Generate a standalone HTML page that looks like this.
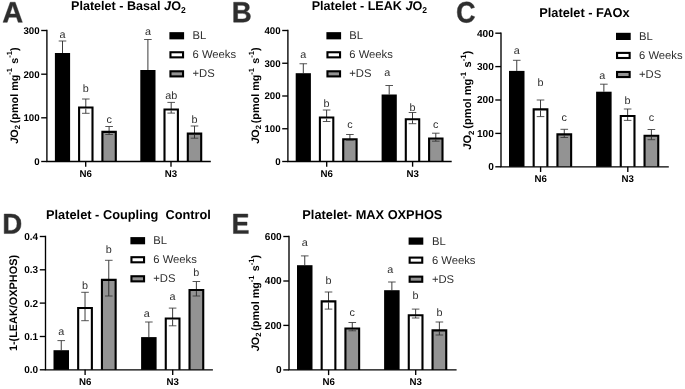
<!DOCTYPE html>
<html><head><meta charset="utf-8"><title>Platelet respiration</title>
<style>html,body{margin:0;padding:0;background:#fff;}body{width:685px;height:389px;overflow:hidden;font-family:"Liberation Sans", sans-serif;}</style>
</head><body>
<svg width="685" height="389" viewBox="0 0 685 389" font-family='"Liberation Sans", sans-serif' style="display:block;filter:grayscale(1)" text-rendering="geometricPrecision">
<rect width="685" height="389" fill="#fff"/>
<path transform="translate(2.334,22.350) scale(0.01405,-0.01427)" d="M1133 0 1008 360H471L346 0H51L565 1409H913L1425 0ZM739 1192 733 1170Q723 1134 709.0 1088.0Q695 1042 537 582H942L803 987L760 1123Z" fill="#2e2e2e" stroke="#2e2e2e" stroke-width="0.45" stroke-linejoin="round" vector-effect="non-scaling-stroke"/>
<text x="71.00" y="10.30" font-size="12.6" font-weight="bold" text-anchor="start" fill="#000" >Platelet - Basal <tspan font-style="italic">J</tspan>O<tspan font-size="8.5" dy="2.5">2</tspan></text>
<path d="M62.50 41.00V53.00" stroke="#262626" stroke-width="0.9" fill="none"/>
<path d="M58.70 41.00H66.30" stroke="#383838" stroke-width="0.85" fill="none"/>
<rect x="54.90" y="53.00" width="15.20" height="108.50" fill="#000"/>
<text x="62.50" y="38.00" font-size="10.8" font-weight="normal" text-anchor="middle" fill="#2e2e2e" >a</text>
<path d="M85.80 99.00V113.30" stroke="#262626" stroke-width="0.9" fill="none"/>
<path d="M82.00 99.00H89.60" stroke="#383838" stroke-width="0.85" fill="none"/>
<path d="M79.10 161.50V107.55H92.50V161.50" fill="#fff" stroke="#000" stroke-width="2.1"/>
<path d="M85.80 108.60V113.30" stroke="#262626" stroke-width="0.9" fill="none"/>
<path d="M82.00 113.30H89.60" stroke="#383838" stroke-width="0.85" fill="none"/>
<text x="85.80" y="92.00" font-size="10.8" font-weight="normal" text-anchor="middle" fill="#2e2e2e" >b</text>
<path d="M109.10 126.50V134.50" stroke="#262626" stroke-width="0.9" fill="none"/>
<path d="M105.30 126.50H112.90" stroke="#383838" stroke-width="0.85" fill="none"/>
<path d="M102.40 161.50V131.85H115.80V161.50" fill="#939393" stroke="#000" stroke-width="2.1"/>
<path d="M109.10 132.90V134.50" stroke="#262626" stroke-width="0.9" fill="none"/>
<path d="M105.30 134.50H112.90" stroke="#383838" stroke-width="0.85" fill="none"/>
<text x="109.10" y="123.30" font-size="10.8" font-weight="normal" text-anchor="middle" fill="#2e2e2e" >c</text>
<path d="M147.90 39.50V70.00" stroke="#262626" stroke-width="0.9" fill="none"/>
<path d="M144.10 39.50H151.70" stroke="#383838" stroke-width="0.85" fill="none"/>
<rect x="140.30" y="70.00" width="15.20" height="91.50" fill="#000"/>
<text x="147.90" y="35.40" font-size="10.8" font-weight="normal" text-anchor="middle" fill="#2e2e2e" >a</text>
<path d="M171.20 102.40V113.10" stroke="#262626" stroke-width="0.9" fill="none"/>
<path d="M167.40 102.40H175.00" stroke="#383838" stroke-width="0.85" fill="none"/>
<path d="M164.50 161.50V109.45H177.90V161.50" fill="#fff" stroke="#000" stroke-width="2.1"/>
<path d="M171.20 110.50V113.10" stroke="#262626" stroke-width="0.9" fill="none"/>
<path d="M167.40 113.10H175.00" stroke="#383838" stroke-width="0.85" fill="none"/>
<text x="171.20" y="99.30" font-size="10.8" font-weight="normal" text-anchor="middle" fill="#2e2e2e" >ab</text>
<path d="M194.50 126.00V138.20" stroke="#262626" stroke-width="0.9" fill="none"/>
<path d="M190.70 126.00H198.30" stroke="#383838" stroke-width="0.85" fill="none"/>
<path d="M187.80 161.50V133.65H201.20V161.50" fill="#939393" stroke="#000" stroke-width="2.1"/>
<path d="M194.50 134.70V138.20" stroke="#262626" stroke-width="0.9" fill="none"/>
<path d="M190.70 138.20H198.30" stroke="#383838" stroke-width="0.85" fill="none"/>
<text x="194.50" y="122.80" font-size="10.8" font-weight="normal" text-anchor="middle" fill="#2e2e2e" >b</text>
<path d="M46.90 29.82V161.50H210.80" stroke="#000" stroke-width="1.35" fill="none" stroke-linejoin="miter"/>
<path d="M41.20 161.50H46.90" stroke="#000" stroke-width="1.35"/>
<text x="39.60" y="164.90" font-size="9.7" font-weight="bold" text-anchor="end" fill="#000" >0</text>
<path d="M41.20 117.80H46.90" stroke="#000" stroke-width="1.35"/>
<text x="39.60" y="121.20" font-size="9.7" font-weight="bold" text-anchor="end" fill="#000" >100</text>
<path d="M41.20 74.20H46.90" stroke="#000" stroke-width="1.35"/>
<text x="39.60" y="77.60" font-size="9.7" font-weight="bold" text-anchor="end" fill="#000" >200</text>
<path d="M41.20 30.50H46.90" stroke="#000" stroke-width="1.35"/>
<text x="39.60" y="33.90" font-size="9.7" font-weight="bold" text-anchor="end" fill="#000" >300</text>
<path d="M85.70 161.50V166.70" stroke="#000" stroke-width="1.35"/>
<text x="85.70" y="176.90" font-size="9.7" font-weight="bold" text-anchor="middle" fill="#000" >N6</text>
<path d="M171.00 161.50V166.70" stroke="#000" stroke-width="1.35"/>
<text x="171.00" y="176.90" font-size="9.7" font-weight="bold" text-anchor="middle" fill="#000" >N3</text>
<text transform="translate(17.50,95.50) rotate(-90)" font-size="10.8" font-weight="bold" text-anchor="middle" fill="#000"><tspan font-style="italic">J</tspan>O<tspan font-size="7.6" dy="2.4">2</tspan><tspan dy="-2.4" dx="-1.2"> (pmol mg</tspan><tspan font-size="7.6" dy="-5.4">-1</tspan><tspan dy="5.4" dx="1.2"> s</tspan><tspan font-size="7.6" dy="-5.4">-1</tspan><tspan dy="5.4">)</tspan></text>
<rect x="169.40" y="32.15" width="14.7" height="7.2" fill="#000"/>
<text x="192.50" y="39.20" font-size="11.25" font-weight="normal" text-anchor="start" fill="#2e2e2e" >BL</text>
<rect x="170.45" y="52.25" width="12.60" height="5.10" fill="#fff" stroke="#000" stroke-width="2.1"/>
<text x="192.50" y="58.25" font-size="11.25" font-weight="normal" text-anchor="start" fill="#2e2e2e" >6 Weeks</text>
<rect x="170.45" y="71.30" width="12.60" height="5.10" fill="#939393" stroke="#000" stroke-width="2.1"/>
<text x="192.50" y="77.30" font-size="11.25" font-weight="normal" text-anchor="start" fill="#2e2e2e" >+DS</text>
<path transform="translate(231.807,22.150) scale(0.01345,-0.01412)" d="M1386 402Q1386 210 1242.0 105.0Q1098 0 842 0H137V1409H782Q1040 1409 1172.5 1319.5Q1305 1230 1305 1055Q1305 935 1238.5 852.5Q1172 770 1036 741Q1207 721 1296.5 633.5Q1386 546 1386 402ZM1008 1015Q1008 1110 947.5 1150.0Q887 1190 768 1190H432V841H770Q895 841 951.5 884.5Q1008 928 1008 1015ZM1090 425Q1090 623 806 623H432V219H817Q959 219 1024.5 270.5Q1090 322 1090 425Z" fill="#2e2e2e" stroke="#2e2e2e" stroke-width="0.45" stroke-linejoin="round" vector-effect="non-scaling-stroke"/>
<text x="311.70" y="10.30" font-size="12.6" font-weight="bold" text-anchor="start" fill="#000" >Platelet - LEAK <tspan font-style="italic">J</tspan>O<tspan font-size="8.5" dy="2.5">2</tspan></text>
<path d="M303.30 63.75V73.20" stroke="#262626" stroke-width="0.9" fill="none"/>
<path d="M299.50 63.75H307.10" stroke="#383838" stroke-width="0.85" fill="none"/>
<rect x="295.70" y="73.20" width="15.20" height="88.30" fill="#000"/>
<text x="303.30" y="58.00" font-size="10.8" font-weight="normal" text-anchor="middle" fill="#2e2e2e" >a</text>
<path d="M326.60 110.00V121.50" stroke="#262626" stroke-width="0.9" fill="none"/>
<path d="M322.80 110.00H330.40" stroke="#383838" stroke-width="0.85" fill="none"/>
<path d="M319.90 161.50V117.55H333.30V161.50" fill="#fff" stroke="#000" stroke-width="2.1"/>
<path d="M326.60 118.60V121.50" stroke="#262626" stroke-width="0.9" fill="none"/>
<path d="M322.80 121.50H330.40" stroke="#383838" stroke-width="0.85" fill="none"/>
<text x="326.60" y="107.00" font-size="10.8" font-weight="normal" text-anchor="middle" fill="#2e2e2e" >b</text>
<path d="M349.90 134.50V140.30" stroke="#262626" stroke-width="0.9" fill="none"/>
<path d="M346.10 134.50H353.70" stroke="#383838" stroke-width="0.85" fill="none"/>
<path d="M343.20 161.50V139.25H356.60V161.50" fill="#939393" stroke="#000" stroke-width="2.1"/>
<path d="M349.90 140.30V140.30" stroke="#262626" stroke-width="0.9" fill="none"/>
<path d="M346.10 140.30H353.70" stroke="#383838" stroke-width="0.85" fill="none"/>
<text x="349.90" y="128.00" font-size="10.8" font-weight="normal" text-anchor="middle" fill="#2e2e2e" >c</text>
<path d="M389.20 85.50V94.50" stroke="#262626" stroke-width="0.9" fill="none"/>
<path d="M385.40 85.50H393.00" stroke="#383838" stroke-width="0.85" fill="none"/>
<rect x="381.60" y="94.50" width="15.20" height="67.00" fill="#000"/>
<text x="387.20" y="75.50" font-size="10.8" font-weight="normal" text-anchor="middle" fill="#2e2e2e" >a</text>
<path d="M412.50 112.50V123.70" stroke="#262626" stroke-width="0.9" fill="none"/>
<path d="M408.70 112.50H416.30" stroke="#383838" stroke-width="0.85" fill="none"/>
<path d="M405.80 161.50V119.25H419.20V161.50" fill="#fff" stroke="#000" stroke-width="2.1"/>
<path d="M412.50 120.30V123.70" stroke="#262626" stroke-width="0.9" fill="none"/>
<path d="M408.70 123.70H416.30" stroke="#383838" stroke-width="0.85" fill="none"/>
<text x="412.50" y="110.70" font-size="10.8" font-weight="normal" text-anchor="middle" fill="#2e2e2e" >b</text>
<path d="M435.80 133.20V141.20" stroke="#262626" stroke-width="0.9" fill="none"/>
<path d="M432.00 133.20H439.60" stroke="#383838" stroke-width="0.85" fill="none"/>
<path d="M429.10 161.50V138.55H442.50V161.50" fill="#939393" stroke="#000" stroke-width="2.1"/>
<path d="M435.80 139.60V141.20" stroke="#262626" stroke-width="0.9" fill="none"/>
<path d="M432.00 141.20H439.60" stroke="#383838" stroke-width="0.85" fill="none"/>
<text x="435.80" y="128.00" font-size="10.8" font-weight="normal" text-anchor="middle" fill="#2e2e2e" >c</text>
<path d="M287.90 29.82V161.50H451.70" stroke="#000" stroke-width="1.35" fill="none" stroke-linejoin="miter"/>
<path d="M282.20 161.50H287.90" stroke="#000" stroke-width="1.35"/>
<text x="280.60" y="164.90" font-size="9.7" font-weight="bold" text-anchor="end" fill="#000" >0</text>
<path d="M282.20 128.75H287.90" stroke="#000" stroke-width="1.35"/>
<text x="280.60" y="132.15" font-size="9.7" font-weight="bold" text-anchor="end" fill="#000" >100</text>
<path d="M282.20 96.00H287.90" stroke="#000" stroke-width="1.35"/>
<text x="280.60" y="99.40" font-size="9.7" font-weight="bold" text-anchor="end" fill="#000" >200</text>
<path d="M282.20 63.25H287.90" stroke="#000" stroke-width="1.35"/>
<text x="280.60" y="66.65" font-size="9.7" font-weight="bold" text-anchor="end" fill="#000" >300</text>
<path d="M282.20 30.50H287.90" stroke="#000" stroke-width="1.35"/>
<text x="280.60" y="33.90" font-size="9.7" font-weight="bold" text-anchor="end" fill="#000" >400</text>
<path d="M326.70 161.50V166.70" stroke="#000" stroke-width="1.35"/>
<text x="326.70" y="176.90" font-size="9.7" font-weight="bold" text-anchor="middle" fill="#000" >N6</text>
<path d="M412.60 161.50V166.70" stroke="#000" stroke-width="1.35"/>
<text x="412.60" y="176.90" font-size="9.7" font-weight="bold" text-anchor="middle" fill="#000" >N3</text>
<text transform="translate(258.90,95.50) rotate(-90)" font-size="10.8" font-weight="bold" text-anchor="middle" fill="#000"><tspan font-style="italic">J</tspan>O<tspan font-size="7.6" dy="2.4">2</tspan><tspan dy="-2.4" dx="-1.2"> (pmol mg</tspan><tspan font-size="7.6" dy="-5.4">-1</tspan><tspan dy="5.4" dx="1.2"> s</tspan><tspan font-size="7.6" dy="-5.4">-1</tspan><tspan dy="5.4">)</tspan></text>
<rect x="326.40" y="32.15" width="14.7" height="7.2" fill="#000"/>
<text x="349.30" y="39.20" font-size="11.25" font-weight="normal" text-anchor="start" fill="#2e2e2e" >BL</text>
<rect x="327.45" y="52.25" width="12.60" height="5.10" fill="#fff" stroke="#000" stroke-width="2.1"/>
<text x="349.30" y="58.25" font-size="11.25" font-weight="normal" text-anchor="start" fill="#2e2e2e" >6 Weeks</text>
<rect x="327.45" y="71.30" width="12.60" height="5.10" fill="#939393" stroke="#000" stroke-width="2.1"/>
<text x="349.30" y="77.30" font-size="11.25" font-weight="normal" text-anchor="start" fill="#2e2e2e" >+DS</text>
<path transform="translate(456.152,22.363) scale(0.01307,-0.01434)" d="M795 212Q1062 212 1166 480L1423 383Q1340 179 1179.5 79.5Q1019 -20 795 -20Q455 -20 269.5 172.5Q84 365 84 711Q84 1058 263.0 1244.0Q442 1430 782 1430Q1030 1430 1186.0 1330.5Q1342 1231 1405 1038L1145 967Q1112 1073 1015.5 1135.5Q919 1198 788 1198Q588 1198 484.5 1074.0Q381 950 381 711Q381 468 487.5 340.0Q594 212 795 212Z" fill="#2e2e2e" stroke="#2e2e2e" stroke-width="0.45" stroke-linejoin="round" vector-effect="non-scaling-stroke"/>
<text x="539.20" y="16.70" font-size="12.8" font-weight="bold" text-anchor="start" fill="#000" >Platelet - FAOx</text>
<path d="M516.75 60.30V70.90" stroke="#262626" stroke-width="0.9" fill="none"/>
<path d="M512.95 60.30H520.55" stroke="#383838" stroke-width="0.85" fill="none"/>
<rect x="509.00" y="70.90" width="15.50" height="95.90" fill="#000"/>
<text x="516.75" y="54.00" font-size="10.8" font-weight="normal" text-anchor="middle" fill="#2e2e2e" >a</text>
<path d="M540.52 100.00V116.60" stroke="#262626" stroke-width="0.9" fill="none"/>
<path d="M536.72 100.00H544.32" stroke="#383838" stroke-width="0.85" fill="none"/>
<path d="M533.67 166.80V109.35H547.37V166.80" fill="#fff" stroke="#000" stroke-width="2.1"/>
<path d="M540.52 110.40V116.60" stroke="#262626" stroke-width="0.9" fill="none"/>
<path d="M536.72 116.60H544.32" stroke="#383838" stroke-width="0.85" fill="none"/>
<text x="540.52" y="86.00" font-size="10.8" font-weight="normal" text-anchor="middle" fill="#2e2e2e" >b</text>
<path d="M564.28 129.30V137.50" stroke="#262626" stroke-width="0.9" fill="none"/>
<path d="M560.48 129.30H568.08" stroke="#383838" stroke-width="0.85" fill="none"/>
<path d="M557.43 166.80V134.35H571.14V166.80" fill="#939393" stroke="#000" stroke-width="2.1"/>
<path d="M564.28 135.40V137.50" stroke="#262626" stroke-width="0.9" fill="none"/>
<path d="M560.48 137.50H568.08" stroke="#383838" stroke-width="0.85" fill="none"/>
<text x="564.28" y="121.40" font-size="10.8" font-weight="normal" text-anchor="middle" fill="#2e2e2e" >c</text>
<path d="M603.86 84.20V91.70" stroke="#262626" stroke-width="0.9" fill="none"/>
<path d="M600.06 84.20H607.66" stroke="#383838" stroke-width="0.85" fill="none"/>
<rect x="596.11" y="91.70" width="15.50" height="75.10" fill="#000"/>
<text x="602.26" y="78.60" font-size="10.8" font-weight="normal" text-anchor="middle" fill="#2e2e2e" >a</text>
<path d="M627.63 109.00V120.40" stroke="#262626" stroke-width="0.9" fill="none"/>
<path d="M623.83 109.00H631.43" stroke="#383838" stroke-width="0.85" fill="none"/>
<path d="M620.77 166.80V116.05H634.48V166.80" fill="#fff" stroke="#000" stroke-width="2.1"/>
<path d="M627.63 117.10V120.40" stroke="#262626" stroke-width="0.9" fill="none"/>
<path d="M623.83 120.40H631.43" stroke="#383838" stroke-width="0.85" fill="none"/>
<text x="627.63" y="104.00" font-size="10.8" font-weight="normal" text-anchor="middle" fill="#2e2e2e" >b</text>
<path d="M651.39 129.50V139.70" stroke="#262626" stroke-width="0.9" fill="none"/>
<path d="M647.59 129.50H655.19" stroke="#383838" stroke-width="0.85" fill="none"/>
<path d="M644.54 166.80V135.75H658.24V166.80" fill="#939393" stroke="#000" stroke-width="2.1"/>
<path d="M651.39 136.80V139.70" stroke="#262626" stroke-width="0.9" fill="none"/>
<path d="M647.59 139.70H655.19" stroke="#383838" stroke-width="0.85" fill="none"/>
<text x="651.39" y="121.40" font-size="10.8" font-weight="normal" text-anchor="middle" fill="#2e2e2e" >c</text>
<path d="M501.00 32.53V166.80H668.80" stroke="#000" stroke-width="1.35" fill="none" stroke-linejoin="miter"/>
<path d="M495.30 166.80H501.00" stroke="#000" stroke-width="1.35"/>
<text x="493.80" y="170.20" font-size="10.1" font-weight="bold" text-anchor="end" fill="#000" >0</text>
<path d="M495.30 133.40H501.00" stroke="#000" stroke-width="1.35"/>
<text x="493.80" y="136.80" font-size="10.1" font-weight="bold" text-anchor="end" fill="#000" >100</text>
<path d="M495.30 100.00H501.00" stroke="#000" stroke-width="1.35"/>
<text x="493.80" y="103.40" font-size="10.1" font-weight="bold" text-anchor="end" fill="#000" >200</text>
<path d="M495.30 66.60H501.00" stroke="#000" stroke-width="1.35"/>
<text x="493.80" y="70.00" font-size="10.1" font-weight="bold" text-anchor="end" fill="#000" >300</text>
<path d="M495.30 33.20H501.00" stroke="#000" stroke-width="1.35"/>
<text x="493.80" y="36.60" font-size="10.1" font-weight="bold" text-anchor="end" fill="#000" >400</text>
<path d="M540.60 166.80V172.00" stroke="#000" stroke-width="1.35"/>
<text x="540.60" y="182.20" font-size="9.7" font-weight="bold" text-anchor="middle" fill="#000" >N6</text>
<path d="M627.80 166.80V172.00" stroke="#000" stroke-width="1.35"/>
<text x="627.80" y="182.20" font-size="9.7" font-weight="bold" text-anchor="middle" fill="#000" >N3</text>
<text transform="translate(471.30,100.20) rotate(-90)" font-size="11.1" font-weight="bold" text-anchor="middle" fill="#000"><tspan font-style="italic">J</tspan>O<tspan font-size="7.81111111111111" dy="2.4666666666666663">2</tspan><tspan dy="-2.4666666666666663" dx="-1.2"> (pmol mg</tspan><tspan font-size="7.81111111111111" dy="-5.55">-1</tspan><tspan dy="5.55" dx="1.2"> s</tspan><tspan font-size="7.81111111111111" dy="-5.55">-1</tspan><tspan dy="5.55">)</tspan></text>
<rect x="616.00" y="32.80" width="14.7" height="7.2" fill="#000"/>
<text x="639.00" y="39.85" font-size="11.25" font-weight="normal" text-anchor="start" fill="#2e2e2e" >BL</text>
<rect x="617.05" y="52.90" width="12.60" height="5.10" fill="#fff" stroke="#000" stroke-width="2.1"/>
<text x="639.00" y="58.90" font-size="11.25" font-weight="normal" text-anchor="start" fill="#2e2e2e" >6 Weeks</text>
<rect x="617.05" y="71.95" width="12.60" height="5.10" fill="#939393" stroke="#000" stroke-width="2.1"/>
<text x="639.00" y="77.95" font-size="11.25" font-weight="normal" text-anchor="start" fill="#2e2e2e" >+DS</text>
<path transform="translate(2.368,233.550) scale(0.01338,-0.01384)" d="M1393 715Q1393 497 1307.5 334.5Q1222 172 1065.5 86.0Q909 0 707 0H137V1409H647Q1003 1409 1198.0 1229.5Q1393 1050 1393 715ZM1096 715Q1096 942 978.0 1061.5Q860 1181 641 1181H432V228H682Q872 228 984.0 359.0Q1096 490 1096 715Z" fill="#2e2e2e" stroke="#2e2e2e" stroke-width="0.45" stroke-linejoin="round" vector-effect="non-scaling-stroke"/>
<text x="46.00" y="219.20" font-size="12.8" font-weight="bold" text-anchor="start" fill="#000" xml:space="preserve">Platelet - Coupling  Control</text>
<path d="M61.25 340.60V350.20" stroke="#262626" stroke-width="0.9" fill="none"/>
<path d="M57.45 340.60H65.05" stroke="#383838" stroke-width="0.85" fill="none"/>
<rect x="53.50" y="350.20" width="15.50" height="19.60" fill="#000"/>
<text x="61.25" y="334.60" font-size="10.8" font-weight="normal" text-anchor="middle" fill="#2e2e2e" >a</text>
<path d="M85.02 292.30V320.70" stroke="#262626" stroke-width="0.9" fill="none"/>
<path d="M81.22 292.30H88.82" stroke="#383838" stroke-width="0.85" fill="none"/>
<path d="M78.17 369.80V307.95H91.87V369.80" fill="#fff" stroke="#000" stroke-width="2.1"/>
<path d="M85.02 309.00V320.70" stroke="#262626" stroke-width="0.9" fill="none"/>
<path d="M81.22 320.70H88.82" stroke="#383838" stroke-width="0.85" fill="none"/>
<text x="85.02" y="289.20" font-size="10.8" font-weight="normal" text-anchor="middle" fill="#2e2e2e" >b</text>
<path d="M108.78 260.30V296.00" stroke="#262626" stroke-width="0.9" fill="none"/>
<path d="M104.98 260.30H112.58" stroke="#383838" stroke-width="0.85" fill="none"/>
<path d="M101.93 369.80V279.85H115.64V369.80" fill="#939393" stroke="#000" stroke-width="2.1"/>
<path d="M108.78 280.90V296.00" stroke="#262626" stroke-width="0.9" fill="none"/>
<path d="M104.98 296.00H112.58" stroke="#383838" stroke-width="0.85" fill="none"/>
<text x="108.78" y="252.90" font-size="10.8" font-weight="normal" text-anchor="middle" fill="#2e2e2e" >b</text>
<path d="M148.85 322.00V337.10" stroke="#262626" stroke-width="0.9" fill="none"/>
<path d="M145.05 322.00H152.65" stroke="#383838" stroke-width="0.85" fill="none"/>
<rect x="141.10" y="337.10" width="15.50" height="32.70" fill="#000"/>
<text x="146.85" y="317.00" font-size="10.8" font-weight="normal" text-anchor="middle" fill="#2e2e2e" >a</text>
<path d="M172.62 308.10V325.80" stroke="#262626" stroke-width="0.9" fill="none"/>
<path d="M168.82 308.10H176.42" stroke="#383838" stroke-width="0.85" fill="none"/>
<path d="M165.77 369.80V318.45H179.47V369.80" fill="#fff" stroke="#000" stroke-width="2.1"/>
<path d="M172.62 319.50V325.80" stroke="#262626" stroke-width="0.9" fill="none"/>
<path d="M168.82 325.80H176.42" stroke="#383838" stroke-width="0.85" fill="none"/>
<text x="172.62" y="300.00" font-size="10.8" font-weight="normal" text-anchor="middle" fill="#2e2e2e" >a</text>
<path d="M196.38 281.50V296.00" stroke="#262626" stroke-width="0.9" fill="none"/>
<path d="M192.58 281.50H200.18" stroke="#383838" stroke-width="0.85" fill="none"/>
<path d="M189.53 369.80V290.05H203.24V369.80" fill="#939393" stroke="#000" stroke-width="2.1"/>
<path d="M196.38 291.10V296.00" stroke="#262626" stroke-width="0.9" fill="none"/>
<path d="M192.58 296.00H200.18" stroke="#383838" stroke-width="0.85" fill="none"/>
<text x="196.38" y="276.00" font-size="10.8" font-weight="normal" text-anchor="middle" fill="#2e2e2e" >b</text>
<path d="M45.50 235.82V369.80H212.90" stroke="#000" stroke-width="1.35" fill="none" stroke-linejoin="miter"/>
<path d="M39.80 369.80H45.50" stroke="#000" stroke-width="1.35"/>
<text x="38.20" y="373.20" font-size="10.0" font-weight="bold" text-anchor="end" fill="#000" >0.0</text>
<path d="M39.80 336.50H45.50" stroke="#000" stroke-width="1.35"/>
<text x="38.20" y="339.90" font-size="10.0" font-weight="bold" text-anchor="end" fill="#000" >0.1</text>
<path d="M39.80 303.10H45.50" stroke="#000" stroke-width="1.35"/>
<text x="38.20" y="306.50" font-size="10.0" font-weight="bold" text-anchor="end" fill="#000" >0.2</text>
<path d="M39.80 269.80H45.50" stroke="#000" stroke-width="1.35"/>
<text x="38.20" y="273.20" font-size="10.0" font-weight="bold" text-anchor="end" fill="#000" >0.3</text>
<path d="M39.80 236.50H45.50" stroke="#000" stroke-width="1.35"/>
<text x="38.20" y="239.90" font-size="10.0" font-weight="bold" text-anchor="end" fill="#000" >0.4</text>
<path d="M85.10 369.80V375.00" stroke="#000" stroke-width="1.35"/>
<text x="85.10" y="385.20" font-size="9.7" font-weight="bold" text-anchor="middle" fill="#000" >N6</text>
<path d="M172.70 369.80V375.00" stroke="#000" stroke-width="1.35"/>
<text x="172.70" y="385.20" font-size="9.7" font-weight="bold" text-anchor="middle" fill="#000" >N3</text>
<text transform="translate(17.00,303.00) rotate(-90)" font-size="10.9" font-weight="bold" text-anchor="middle" fill="#000">1-(LEAK/OXPHOS)</text>
<rect x="130.40" y="237.10" width="14.7" height="7.2" fill="#000"/>
<text x="153.30" y="244.15" font-size="11.25" font-weight="normal" text-anchor="start" fill="#2e2e2e" >BL</text>
<rect x="131.45" y="257.20" width="12.60" height="5.10" fill="#fff" stroke="#000" stroke-width="2.1"/>
<text x="153.30" y="263.20" font-size="11.25" font-weight="normal" text-anchor="start" fill="#2e2e2e" >6 Weeks</text>
<rect x="131.45" y="276.25" width="12.60" height="5.10" fill="#939393" stroke="#000" stroke-width="2.1"/>
<text x="153.30" y="282.25" font-size="11.25" font-weight="normal" text-anchor="start" fill="#2e2e2e" >+DS</text>
<path transform="translate(231.673,233.550) scale(0.01297,-0.01384)" d="M137 0V1409H1245V1181H432V827H1184V599H432V228H1286V0Z" fill="#2e2e2e" stroke="#2e2e2e" stroke-width="0.45" stroke-linejoin="round" vector-effect="non-scaling-stroke"/>
<text x="302.30" y="219.20" font-size="12.8" font-weight="bold" text-anchor="start" fill="#000" >Platelet- MAX OXPHOS</text>
<path d="M304.75 255.90V265.20" stroke="#262626" stroke-width="0.9" fill="none"/>
<path d="M300.95 255.90H308.55" stroke="#383838" stroke-width="0.85" fill="none"/>
<rect x="297.00" y="265.20" width="15.50" height="104.70" fill="#000"/>
<text x="304.75" y="246.10" font-size="10.8" font-weight="normal" text-anchor="middle" fill="#2e2e2e" >a</text>
<path d="M328.52 292.00V309.10" stroke="#262626" stroke-width="0.9" fill="none"/>
<path d="M324.72 292.00H332.32" stroke="#383838" stroke-width="0.85" fill="none"/>
<path d="M321.67 369.90V301.35H335.37V369.90" fill="#fff" stroke="#000" stroke-width="2.1"/>
<path d="M328.52 302.40V309.10" stroke="#262626" stroke-width="0.9" fill="none"/>
<path d="M324.72 309.10H332.32" stroke="#383838" stroke-width="0.85" fill="none"/>
<text x="328.52" y="284.10" font-size="10.8" font-weight="normal" text-anchor="middle" fill="#2e2e2e" >b</text>
<path d="M352.28 322.50V330.80" stroke="#262626" stroke-width="0.9" fill="none"/>
<path d="M348.48 322.50H356.08" stroke="#383838" stroke-width="0.85" fill="none"/>
<path d="M345.43 369.90V328.55H359.14V369.90" fill="#939393" stroke="#000" stroke-width="2.1"/>
<path d="M352.28 329.60V330.80" stroke="#262626" stroke-width="0.9" fill="none"/>
<path d="M348.48 330.80H356.08" stroke="#383838" stroke-width="0.85" fill="none"/>
<text x="352.28" y="316.20" font-size="10.8" font-weight="normal" text-anchor="middle" fill="#2e2e2e" >c</text>
<path d="M391.86 282.00V290.20" stroke="#262626" stroke-width="0.9" fill="none"/>
<path d="M388.06 282.00H395.66" stroke="#383838" stroke-width="0.85" fill="none"/>
<rect x="384.11" y="290.20" width="15.50" height="79.70" fill="#000"/>
<text x="390.26" y="272.90" font-size="10.8" font-weight="normal" text-anchor="middle" fill="#2e2e2e" >a</text>
<path d="M415.63 309.10V318.00" stroke="#262626" stroke-width="0.9" fill="none"/>
<path d="M411.83 309.10H419.43" stroke="#383838" stroke-width="0.85" fill="none"/>
<path d="M408.77 369.90V315.25H422.48V369.90" fill="#fff" stroke="#000" stroke-width="2.1"/>
<path d="M415.63 316.30V318.00" stroke="#262626" stroke-width="0.9" fill="none"/>
<path d="M411.83 318.00H419.43" stroke="#383838" stroke-width="0.85" fill="none"/>
<text x="415.63" y="298.60" font-size="10.8" font-weight="normal" text-anchor="middle" fill="#2e2e2e" >b</text>
<path d="M439.39 322.00V335.00" stroke="#262626" stroke-width="0.9" fill="none"/>
<path d="M435.59 322.00H443.19" stroke="#383838" stroke-width="0.85" fill="none"/>
<path d="M432.54 369.90V330.35H446.24V369.90" fill="#939393" stroke="#000" stroke-width="2.1"/>
<path d="M439.39 331.40V335.00" stroke="#262626" stroke-width="0.9" fill="none"/>
<path d="M435.59 335.00H443.19" stroke="#383838" stroke-width="0.85" fill="none"/>
<text x="439.39" y="316.00" font-size="10.8" font-weight="normal" text-anchor="middle" fill="#2e2e2e" >b</text>
<path d="M289.00 235.82V369.90H456.60" stroke="#000" stroke-width="1.35" fill="none" stroke-linejoin="miter"/>
<path d="M283.30 369.90H289.00" stroke="#000" stroke-width="1.35"/>
<text x="281.70" y="373.30" font-size="10.1" font-weight="bold" text-anchor="end" fill="#000" >0</text>
<path d="M283.30 325.40H289.00" stroke="#000" stroke-width="1.35"/>
<text x="281.70" y="328.80" font-size="10.1" font-weight="bold" text-anchor="end" fill="#000" >200</text>
<path d="M283.30 281.00H289.00" stroke="#000" stroke-width="1.35"/>
<text x="281.70" y="284.40" font-size="10.1" font-weight="bold" text-anchor="end" fill="#000" >400</text>
<path d="M283.30 236.50H289.00" stroke="#000" stroke-width="1.35"/>
<text x="281.70" y="239.90" font-size="10.1" font-weight="bold" text-anchor="end" fill="#000" >600</text>
<path d="M328.60 369.90V375.10" stroke="#000" stroke-width="1.35"/>
<text x="328.60" y="385.30" font-size="9.7" font-weight="bold" text-anchor="middle" fill="#000" >N6</text>
<path d="M415.70 369.90V375.10" stroke="#000" stroke-width="1.35"/>
<text x="415.70" y="385.30" font-size="9.7" font-weight="bold" text-anchor="middle" fill="#000" >N3</text>
<text transform="translate(258.90,303.00) rotate(-90)" font-size="10.8" font-weight="bold" text-anchor="middle" fill="#000"><tspan font-style="italic">J</tspan>O<tspan font-size="7.6" dy="2.4">2</tspan><tspan dy="-2.4" dx="-1.2"> (pmol mg</tspan><tspan font-size="7.6" dy="-5.4">-1</tspan><tspan dy="5.4" dx="1.2"> s</tspan><tspan font-size="7.6" dy="-5.4">-1</tspan><tspan dy="5.4">)</tspan></text>
<rect x="408.60" y="237.50" width="14.7" height="7.2" fill="#000"/>
<text x="431.90" y="244.55" font-size="11.25" font-weight="normal" text-anchor="start" fill="#2e2e2e" >BL</text>
<rect x="409.65" y="257.60" width="12.60" height="5.10" fill="#fff" stroke="#000" stroke-width="2.1"/>
<text x="431.90" y="263.60" font-size="11.25" font-weight="normal" text-anchor="start" fill="#2e2e2e" >6 Weeks</text>
<rect x="409.65" y="276.65" width="12.60" height="5.10" fill="#939393" stroke="#000" stroke-width="2.1"/>
<text x="431.90" y="282.65" font-size="11.25" font-weight="normal" text-anchor="start" fill="#2e2e2e" >+DS</text>
</svg>
</body></html>
